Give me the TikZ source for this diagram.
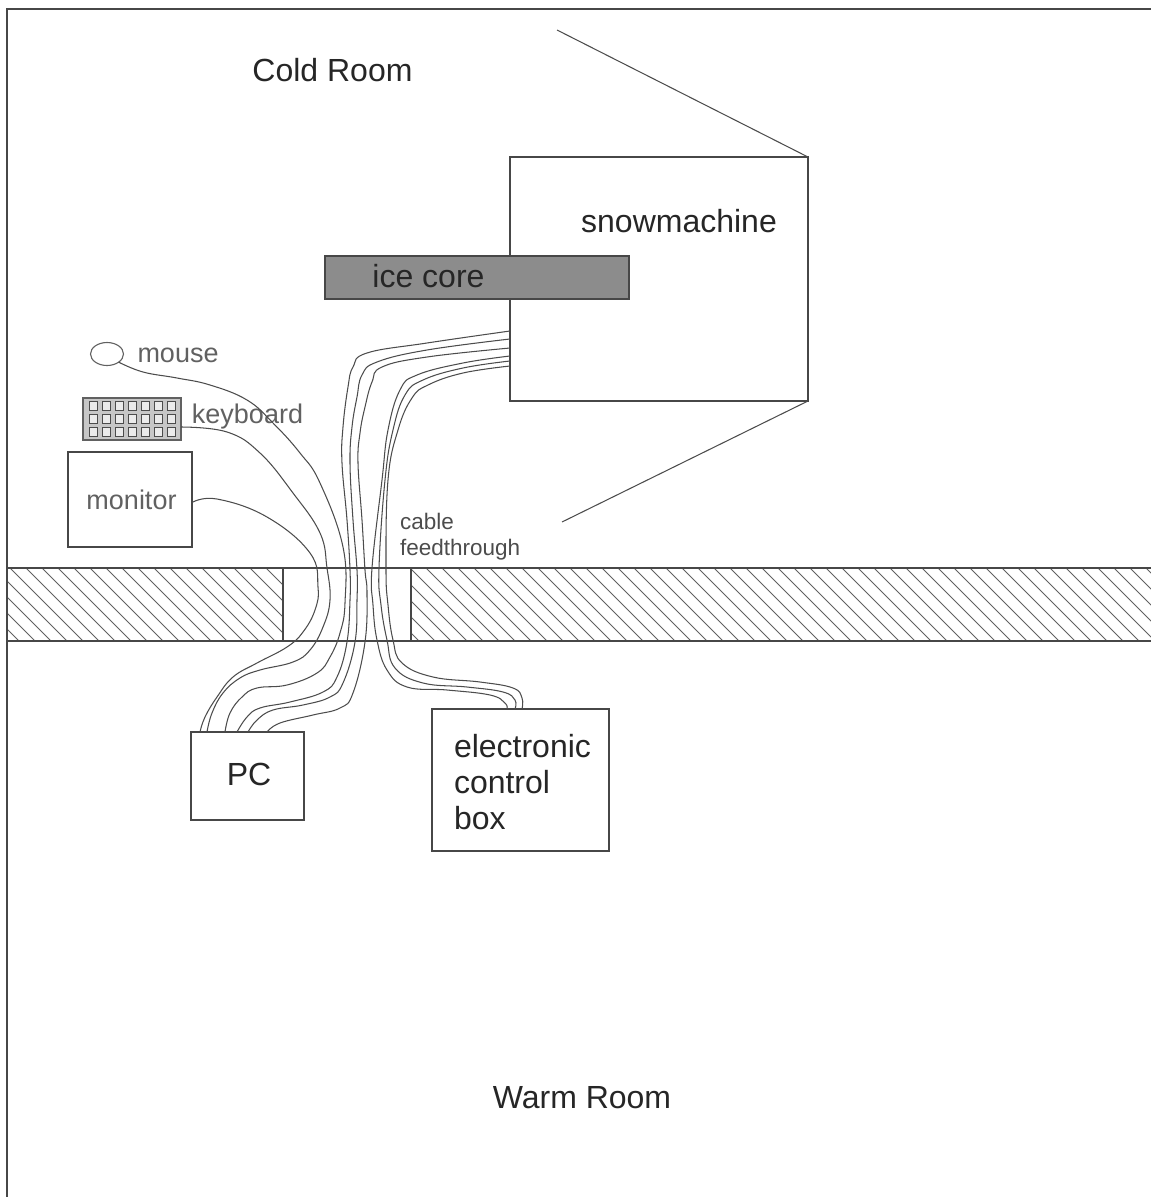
\documentclass[tikz,border=0pt]{standalone}
\usepackage{fontspec}
\setmainfont{Liberation Sans}
\usetikzlibrary{positioning, calc, shapes.geometric}
\colorlet{linegray}{black!72}
\newcommand{\bigtext}{\fontsize{32}{36}\selectfont}
\tikzset{
  box/.style={draw=linegray, line width=1.3pt, inner sep=0pt, outer sep=0pt, fill=white},
  darktext/.style={inner sep=0pt, outer sep=0pt, font=\bigtext, text=black!85, align=left},
  greytext/.style={inner sep=0pt, outer sep=0pt, text=black!62, align=left},
  cable/.style={draw=black!70, line width=1.05pt, smooth, tension=0.7},
  viewline/.style={draw=black!70, line width=1.05pt},
  wall/.style={draw=linegray, line width=1.1pt},
  hatch/.style={draw=black!62, line width=0.9pt},
  keycap/.style={draw=black!70, line width=0.9pt, fill=black!8, inner sep=0pt, minimum width=8pt, minimum height=9pt}
}

\begin{document}
\begin{tikzpicture}[x=1pt,y=-1pt]
    \useasboundingbox (0,0) rectangle (1151,1197);
    % room outline
    \draw[wall] (7,1197) -- (7,9) -- (1151,9);
    % wall with the gap
    \begin{scope}
      \clip (7,568) rectangle (283,641) (411,568) rectangle (1151,641);
      \foreach \hx in {-70,-54,...,1150}
        \draw[hatch] (\hx,568) -- ++(73,73);
    \end{scope}
    \draw[wall] (7,568) -- (1151,568);
    \draw[wall] (7,641) -- (1151,641);
    \draw[wall] (7,568) -- (7,641);
    \draw[wall] (283,568) -- (283,641);
    \draw[wall] (411,568) -- (411,641);

    \node[darktext] (coldroom) at (332.5,70) {Cold Room};
    \node[darktext] (warmroom) at (582,1098) {Warm Room};

    % snowmachine and its view lines
    \node[box, minimum width=298pt, minimum height=244pt] (snow) at (659,279) {};
    \node[darktext] (snowlabel) at (679,221) {snowmachine};
    \coordinate (viewa) at (557,30);
    \coordinate (viewb) at (562,522);
    \draw[viewline] (snow.north east) -- (viewa);
    \draw[viewline] (snow.south east) -- (viewb);
    \node[box, fill=black!45, minimum width=304pt, minimum height=43pt] (core) at (477,277.5) {};
    \node[darktext] (corelabel) at (428.5,276) {ice core};

    % devices in the cold room
    \node[draw=black!62, line width=1.1pt, ellipse, inner sep=0pt, outer sep=0pt, minimum width=33pt, minimum height=23pt] (mouse) at (107,354) {};
    \node[greytext, font=\fontsize{27}{32}\selectfont, right=14pt of mouse.east, anchor=west, yshift=-1pt] (mouselabel) {mouse};
    \node[box, draw=black!62, fill=black!22, minimum width=98pt, minimum height=42pt] (keyboard) at (132,419) {};
    \foreach \kx in {0,...,6}
      \foreach \ky in {0,...,2}
        \node[keycap] (key\kx\ky) at (93+13*\kx,406+13*\ky) {};
    \node[greytext, font=\fontsize{27}{32}\selectfont] (keyboardlabel) at (247.5,417) {keyboard};
    \node[box, minimum width=124pt, minimum height=95pt] (monitor) at (130,499.5) {};
    \node[greytext, font=\fontsize{27}{32}\selectfont] (monitorlabel) at (131.5,500) {monitor};
    \node[greytext, font=\fontsize{22.5}{26}\selectfont, anchor=north west, text=black!70] (feedlabel) at (400,513) {cable\\feedthrough};

    % devices in the warm room
    \node[box, minimum width=113pt, minimum height=88pt] (pc) at (247.5,776) {};
    \node[darktext] (pclabel) at (249,774) {PC};
    \node[box, minimum width=177pt, minimum height=142pt] (control) at (520.5,780) {};
    \node[darktext, anchor=west] (controllabel) at (454,782) {electronic\\control\\box};

    % cable ends
    \coordinate (mouseout) at (mouse.south east);
    \coordinate (keyboardout) at ($(keyboard.east)+(0,8)$);
    \coordinate (monitorout) at ($(monitor.east)+(0,3)$);
    \coordinate (snowa) at (510,331);
    \coordinate (snowb) at (510,339);
    \coordinate (snowc) at (510,348);
    \coordinate (snowd) at (510,356);
    \coordinate (snowe) at (510,361);
    \coordinate (snowf) at (510,366);
    \coordinate (pca) at (200,732);
    \coordinate (pcb) at (207,732);
    \coordinate (pcc) at (225,732);
    \coordinate (pcd) at (237,732);
    \coordinate (pce) at (248,732);
    \coordinate (pcf) at (267,732);
    \coordinate (boxa) at (507,709);
    \coordinate (boxb) at (515,709);
    \coordinate (boxc) at (522,709);

    % cables to the PC
    \draw[cable] plot coordinates {(monitorout) (217,499) (267,517) (310,553) (318,587) (315,610) (303,632) (287,647) (257,663) (233,677) (217,697) (205,717) (pca)};
    \draw[cable] plot coordinates {(keyboardout) (227,432) (260,453) (293,493) (320,533) (327,568) (330,600) (323,627) (310,650) (293,662) (260,670) (240,678) (223,693) (212,713) (pcb)};
    \draw[cable] plot coordinates {(mouseout) (143,372) (177,378) (210,385) (247,400) (273,423) (300,453) (320,483) (343,547) (345,603) (340,633) (330,657) (317,673) (287,685) (257,688) (242,697) (230,713) (pcc)};
    \draw[cable] plot coordinates {(snowa) (427,343) (367,353) (353,367) (348,387) (343,427) (342,463) (347,520) (350,570) (350,600) (347,642) (337,677) (323,692) (290,702) (260,708) (247,717) (pcd)};
    \draw[cable] plot coordinates {(snowb) (427,350) (377,362) (362,375) (357,397) (352,427) (350,463) (353,520) (357,570) (357,600) (355,642) (343,683) (330,697) (303,705) (273,710) (257,720) (pce)};
    \draw[cable] plot coordinates {(snowc) (427,357) (382,367) (372,382) (365,407) (360,433) (358,463) (362,520) (365,570) (367,593) (365,642) (353,693) (340,708) (313,715) (280,723) (pcf)};

    % cables to the control box
    \draw[cable] plot coordinates {(snowd) (463,363) (417,375) (400,390) (388,430) (382,480) (372,568) (373,605) (377,640) (387,670) (407,687) (447,690) (490,695) (505,703) (boxa)};
    \draw[cable] plot coordinates {(snowe) (463,368) (423,380) (405,395) (393,430) (385,480) (379,568) (381,605) (387,640) (395,668) (423,683) (467,687) (503,692) (515,700) (boxb)};
    \draw[cable] plot coordinates {(snowf) (463,373) (428,385) (412,398) (398,430) (388,480) (386,568) (388,605) (393,640) (402,663) (433,677) (480,682) (513,688) (522,698) (boxc)};
\end{tikzpicture}
\end{document}
